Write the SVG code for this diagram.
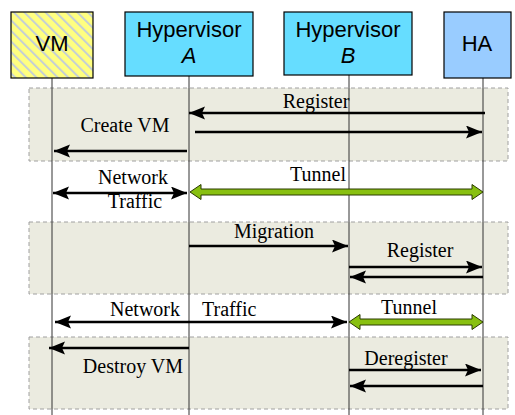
<svg xmlns="http://www.w3.org/2000/svg" width="515" height="415" viewBox="0 0 515 415">
<defs>
<pattern id="hatch" patternUnits="userSpaceOnUse" width="7.5" height="10" patternTransform="rotate(-45)">
<rect width="7.5" height="10" fill="#ffff80"/>
<rect x="0" y="0" width="2" height="10" fill="#c4cfd4"/>
</pattern>
<marker id="ah" markerUnits="userSpaceOnUse" markerWidth="18" markerHeight="14" refX="16" refY="6.5" orient="auto-start-reverse">
<path d="M0,0 L16,6.5 L0,13 L3,6.5 z" fill="#000"/>
</marker>
<style>
.box{stroke:#000;stroke-width:1.2}
.bl{font-family:"Liberation Sans",Arial,sans-serif;font-size:22px;fill:#000;text-anchor:middle}
.lbl{font-family:"Liberation Serif","Times New Roman",serif;font-size:20px;fill:#000}
.grp{fill:#ebebe0;stroke:#a0a0a0;stroke-width:1;stroke-dasharray:4,3}
.life{stroke:#333;stroke-width:1}
.msg{stroke:#000;stroke-width:2.4;fill:none}
.tun{fill:#88c010;stroke:#2a3a00;stroke-width:1}
</style>
</defs>
<g id="groups">
<rect class="grp" x="29" y="88" width="479" height="73"/>
<rect class="grp" x="29" y="222" width="479" height="72"/>
<rect class="grp" x="29" y="337" width="479" height="72"/>
</g>
<g id="lifelines">
<line class="life" x1="52" y1="78" x2="52" y2="415"/>
<line class="life" x1="189" y1="76" x2="189" y2="415"/>
<line class="life" x1="349" y1="75" x2="349" y2="415"/>
<line class="life" x1="483" y1="78" x2="483" y2="415"/>
</g>
<g id="vm"><rect class="box" x="11" y="12" width="82" height="66" fill="url(#hatch)"/><text class="bl" x="52" y="51">VM</text></g>
<g id="hypervisorA"><rect class="box" x="125" y="12" width="128" height="64" fill="#66ddff"/><text class="bl" x="189" y="37">Hypervisor</text><text class="bl" x="189" y="63" font-style="italic">A</text></g>
<g id="hypervisorB"><rect class="box" x="284" y="12" width="128" height="63" fill="#66ddff"/><text class="bl" x="348" y="37">Hypervisor</text><text class="bl" x="348" y="63" font-style="italic">B</text></g>
<g id="ha"><rect class="box" x="444" y="12" width="67" height="66" fill="#99ccff"/><text class="bl" x="477" y="51">HA</text></g>
<g id="connectors">
<line class="msg" x1="485" y1="113" x2="189" y2="113" marker-end="url(#ah)"/>
<line class="msg" x1="195" y1="132" x2="482" y2="132" marker-end="url(#ah)"/>
<line class="msg" x1="187" y1="151" x2="54" y2="151" marker-end="url(#ah)"/>
<line class="msg" x1="53" y1="193" x2="187" y2="193" marker-start="url(#ah)" marker-end="url(#ah)"/>
<path class="tun" d="M190,192 L201,184.5 L201,189 L472,189 L472,184.5 L483,192 L472,199.5 L472,195 L201,195 L201,199.5 Z"/>
<line class="msg" x1="189" y1="246" x2="348" y2="246" marker-end="url(#ah)"/>
<line class="msg" x1="349" y1="267" x2="482" y2="267" marker-end="url(#ah)"/>
<line class="msg" x1="483" y1="277" x2="350" y2="277" marker-end="url(#ah)"/>
<line class="msg" x1="55" y1="322" x2="347" y2="322" marker-start="url(#ah)" marker-end="url(#ah)"/>
<path class="tun" d="M349,322 L360,314.5 L360,319 L472,319 L472,314.5 L483,322 L472,329.5 L472,325 L360,325 L360,329.5 Z"/>
<line class="msg" x1="189" y1="348" x2="49" y2="348" marker-end="url(#ah)"/>
<line class="msg" x1="349" y1="370" x2="481" y2="370" marker-end="url(#ah)"/>
<line class="msg" x1="483" y1="386" x2="350" y2="386" marker-end="url(#ah)"/>
</g>
<g id="labels">
<text class="lbl" x="316" y="108" text-anchor="middle">Register</text>
<text class="lbl" x="125" y="132" text-anchor="middle">Create VM</text>
<text class="lbl" x="133" y="184" text-anchor="middle">Network</text>
<text class="lbl" x="135" y="208" text-anchor="middle">Traffic</text>
<text class="lbl" x="318" y="181" text-anchor="middle">Tunnel</text>
<text class="lbl" x="274" y="238" text-anchor="middle">Migration</text>
<text class="lbl" x="420" y="257" text-anchor="middle">Register</text>
<text class="lbl" x="180" y="316" text-anchor="end">Network</text>
<text class="lbl" x="202" y="316">Traffic</text>
<text class="lbl" x="409" y="314" text-anchor="middle">Tunnel</text>
<text class="lbl" x="183" y="373" text-anchor="end">Destroy VM</text>
<text class="lbl" x="406" y="365" text-anchor="middle">Deregister</text>
</g>
</svg>
